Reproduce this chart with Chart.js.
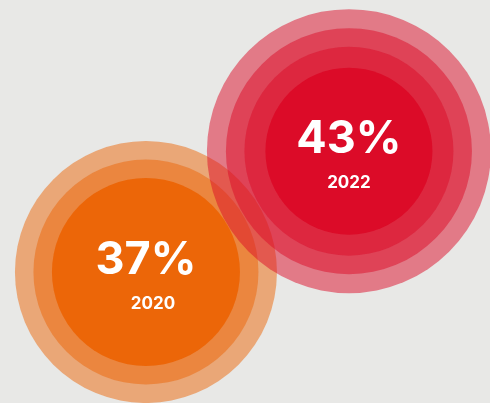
<!DOCTYPE html>
<html>
<head>
<meta charset="utf-8">
<script src="https://cdn.jsdelivr.net/npm/chart.js@4"></script>
<style>
  html, body { margin: 0; padding: 0; background: #e8e8e6; }
  #wrap { width: 490px; height: 403px; position: relative; }
</style>
</head>
<body>
<div id="wrap"><canvas id="chart"></canvas></div>
<script>
(function () {
  const years = ['2020', '2022'];
  const shares = [37, 43];

  // ring look per bubble: base colour and ring radii (outer -> inner)
  const baseColors = ['236,102,8', '220,11,40'];
  const ringRadii = [
    [131, 112.5, 94],
    [142, 123, 104.5, 83.5],
  ];
  const yearShift = [7, 0];

  // one dataset per ring, orange first so the red rings sit on top
  const drawOrder = [];
  years.forEach((yr, i) => {
    const radii = ringRadii[i];
    radii.forEach((r, k) => {
      const inner = k === radii.length - 1;
      drawOrder.push({
        label: yr + ' ring ' + k,
        data: [{ x: i, y: shares[i] }],
        pointRadius: r,
        pointHoverRadius: r,
        pointBorderWidth: 0,
        pointHoverBorderWidth: 0,
        pointBackgroundColor: `rgba(${baseColors[i]},${inner ? 1 : 0.5})`,
        pointBorderColor: 'rgba(0,0,0,0)',
        clip: false,
      });
    });
  });
  // chart.js paints dataset 0 last
  const datasets = drawOrder.slice().reverse();

  const labelPlugin = {
    id: 'bubbleLabels',
    afterDatasetsDraw(chart) {
      const { ctx, scales } = chart;
      ctx.save();
      ctx.fillStyle = '#ffffff';
      ctx.textAlign = 'center';
      years.forEach((yr, i) => {
        const cx = scales.x.getPixelForValue(i);
        const cy = scales.y.getPixelForValue(shares[i]);
        ctx.textBaseline = 'alphabetic';
        ctx.font = '700 45px Inter';
        ctx.fillText(shares[i] + '%', cx, cy + 2);
        ctx.font = '700 17px Inter';
        ctx.fillText(yr, cx + yearShift[i], cy + 37);
      });
      ctx.restore();
    }
  };

  new Chart(document.getElementById('chart'), {
    type: 'scatter',
    data: { datasets },
    options: {
      responsive: true,
      maintainAspectRatio: false,
      animation: false,
      events: [],
      layout: { padding: 0, autoPadding: false },
      plugins: { legend: { display: false }, tooltip: { enabled: false } },
      scales: {
        x: { type: 'linear', display: false, min: -0.719, max: 1.695 },
        y: { type: 'linear', display: false, min: 30.5, max: 50.5 },
      },
    },
    plugins: [labelPlugin],
  });
})();
</script>
</body>
</html>
